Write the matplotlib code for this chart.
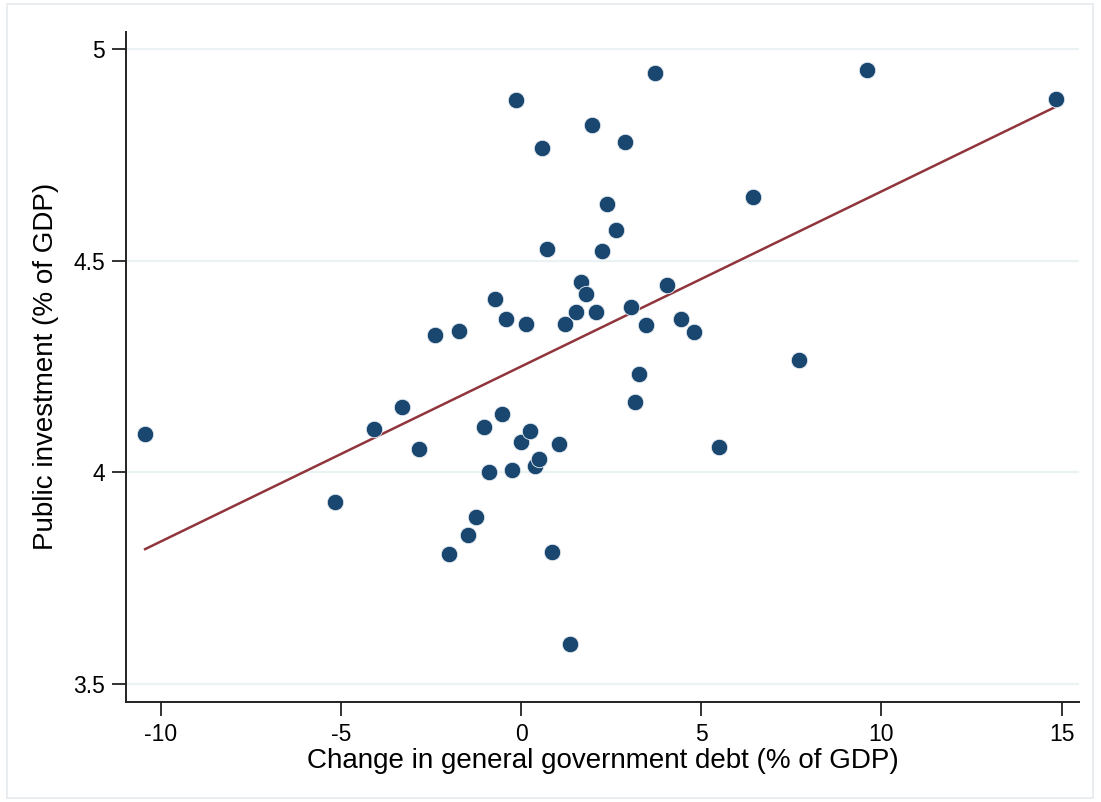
import numpy as np
import matplotlib
matplotlib.use("Agg")
import matplotlib.pyplot as plt
from matplotlib.patches import Rectangle

debt_change = [-10.43, -5.15, -4.07, -3.29, -2.82, -2.40, -1.71, -2.01, -1.46, -1.26,
               -1.04, -0.88, -0.71, -0.41, -0.54, -0.24, -0.13, -0.01, 0.14, 0.24,
               0.38, 0.49, 0.59, 0.73, 0.87, 1.04, 1.22, 1.35, 1.52, 1.65,
               1.79, 1.96, 2.09, 2.24, 2.39, 2.64, 2.88, 3.04, 3.15, 3.27,
               3.46, 3.71, 4.05, 4.44, 4.80, 5.48, 6.44, 7.71, 9.61, 14.85]
public_inv = [4.090, 3.929, 4.101, 4.153, 4.054, 4.325, 4.333, 3.807, 3.851, 3.894,
              4.107, 4.000, 4.408, 4.361, 4.137, 4.005, 4.880, 4.071, 4.349, 4.098,
              4.014, 4.031, 4.767, 4.528, 3.811, 4.066, 4.349, 3.595, 4.379, 4.449,
              4.421, 4.821, 4.379, 4.522, 4.633, 4.573, 4.781, 4.389, 4.165, 4.231,
              4.347, 4.943, 4.443, 4.363, 4.330, 4.060, 4.649, 4.264, 4.950, 4.882]

# fitted line (as shown in the chart), endpoints at the data range
fit_x = [-10.43, 14.85]
fit_y = [3.818, 4.864]

x_ticks = [-10, -5, 0, 5, 10, 15]
y_ticks = [3.5, 4, 4.5, 5]
y_tick_labels = ["3.5", "4", "4.5", "5"]

plt.rcParams['font.family'] = ['Liberation Sans', 'DejaVu Sans']
plt.rcParams['axes.unicode_minus'] = False

fig = plt.figure(figsize=(11.01, 8.02), dpi=100)
ax = fig.add_axes([126/1101, 1 - 701.7/802, (1079 - 126)/1101, (701.7 - 32)/802])

for yt in y_ticks:
    ax.axhline(yt, color='#eaf2f3', lw=1.6, zorder=0)

ax.plot(fit_x, fit_y, color='#90353b', lw=1.8, zorder=2)
ax.scatter(debt_change, public_inv, s=140, color='#1a476f', edgecolors='#e8eef3',
           linewidths=0.6, zorder=3)

ax.set_xlim(-10.96, 15.48)
ax.set_ylim(3.4575, 5.04)
ax.set_xticks(x_ticks)
ax.set_yticks(y_ticks)
ax.set_yticklabels(y_tick_labels)
ax.tick_params(axis='both', labelsize=16.5, length=10, width=1.3, color='#222222', pad=5)
for s in ['top', 'right']:
    ax.spines[s].set_visible(False)
for s in ['left', 'bottom']:
    ax.spines[s].set_linewidth(1.4)
    ax.spines[s].set_color('#222222')

ax.set_xlabel('Change in general government debt (% of GDP)', fontsize=20, labelpad=2)
ax.set_ylabel('Public investment (% of GDP)', fontsize=20, labelpad=10)

fig.patches.append(Rectangle((7/1101, 1 - 798/802), (1093 - 7)/1101, (798 - 4)/802,
                             transform=fig.transFigure, fill=False,
                             edgecolor='#e6eaee', lw=1.2))

fig.savefig('out.png', dpi=100)
